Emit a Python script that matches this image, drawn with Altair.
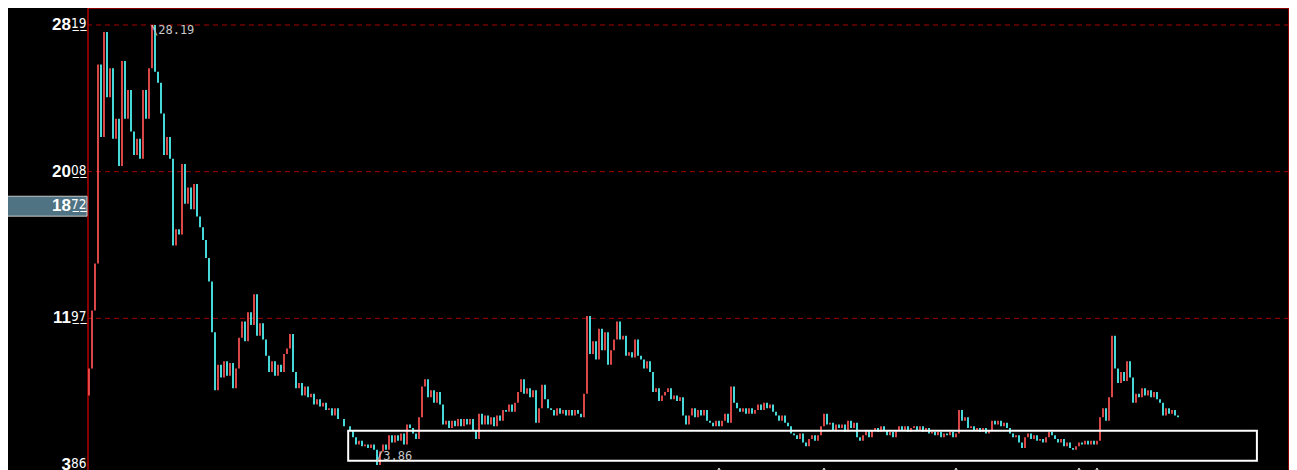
import altair as alt
import pandas as pd

# ---------------- data ----------------
FIRST_OPEN = 7.7
CLOSE = [
    9.2, 12.4, 15.0, 26.0, 22.0, 27.8, 24.2, 25.8, 21.9, 23.0,
    20.4, 26.2, 23.0, 24.6, 22.3, 21.0, 21.9, 20.8, 24.6, 23.0,
    25.8, 28.19, 25.6, 25.0, 23.3, 21.0, 22.0, 20.8, 16.0, 16.9,
    16.6, 20.5, 18.3, 19.2, 18.0, 19.4, 17.6, 17.0, 16.3, 15.3,
    14.0, 11.2, 8.0, 9.4, 8.7, 9.6, 8.8, 9.5, 8.1, 9.2,
    10.9, 11.8, 10.7, 12.3, 11.6, 13.3, 11.0, 11.7, 10.8, 9.9,
    9.0, 9.6, 8.8, 9.4, 9.0, 10.0, 10.3, 11.1, 9.0, 8.1,
    8.4, 7.7, 8.2, 7.6, 7.8, 7.2, 7.5, 7.1, 7.3, 6.9,
    7.0, 6.6, 7.0, 6.4, 6.4, 6.0, 6.0, 5.8, 5.4, 5.0,
    5.2, 4.9, 5.0, 4.8, 5.0, 4.7, 3.86, 4.6, 5.0, 4.7,
    5.5, 5.1, 5.5, 5.2, 5.6, 5.0, 6.1, 5.9, 5.6, 5.3,
    6.5, 8.2, 8.6, 7.6, 8.0, 7.3, 7.9, 7.2, 6.1, 6.3,
    5.9, 6.3, 6.0, 6.4, 6.0, 6.4, 6.1, 6.4, 5.8, 5.3,
    6.7, 6.1, 6.6, 6.1, 6.5, 6.0, 6.6, 6.3, 6.9, 6.8,
    7.2, 6.8, 7.3, 7.9, 8.6, 7.8, 8.1, 7.6, 8.0, 6.2,
    7.0, 8.3, 7.5, 7.0, 6.9, 6.6, 7.0, 6.7, 6.9, 6.6,
    6.9, 6.6, 6.9, 6.7, 6.5, 7.8, 12.1, 10.0, 10.7, 9.7,
    11.4, 10.2, 11.2, 9.4, 10.2, 10.8, 11.8, 10.8, 11.0, 9.9,
    10.1, 9.8, 10.8, 9.9, 9.7, 9.2, 9.6, 9.0, 7.9, 8.1,
    7.4, 7.7, 7.9, 8.1, 7.5, 7.7, 7.4, 7.6, 6.6, 6.1,
    6.6, 7.0, 6.5, 6.9, 6.6, 6.9, 6.3, 6.2, 6.0, 6.3,
    6.0, 6.3, 6.7, 6.2, 8.2, 7.3, 7.0, 6.8, 7.0, 6.7,
    7.0, 6.7, 6.9, 7.2, 6.9, 7.3, 7.0, 7.2, 6.8, 6.6,
    6.3, 6.6, 6.2, 6.0, 5.6, 5.5, 5.3, 5.6, 5.1, 4.9,
    5.3, 5.5, 5.2, 5.5, 6.0, 6.7, 6.1, 6.2, 5.8, 6.1,
    5.9, 6.1, 5.7, 6.3, 5.9, 6.2, 5.4, 5.2, 5.5, 5.8,
    5.4, 5.8, 5.9, 5.7, 6.0, 5.8, 5.5, 5.7, 5.4, 5.8,
    6.0, 5.8, 6.0, 5.7, 5.9, 6.0, 5.8, 6.0, 5.7, 5.9,
    5.6, 5.7, 5.5, 5.7, 5.4, 5.6, 5.5, 5.7, 5.4, 5.6,
    6.9, 6.3, 6.5, 5.9, 6.0, 5.8, 5.9, 5.7, 5.9, 5.6,
    5.8, 6.3, 6.1, 6.3, 6.0, 6.2, 5.9, 5.6, 5.4, 5.5,
    5.1, 4.8, 5.4, 5.6, 5.3, 5.5, 5.2, 5.3, 5.1, 5.4,
    5.7, 5.5, 5.3, 5.1, 5.3, 4.9, 5.1, 4.8, 4.7, 4.9,
    5.1, 5.0, 5.2, 5.0, 5.2, 5.0, 5.2, 6.5, 7.0, 6.3,
    7.6, 11.0, 9.2, 8.4, 9.0, 8.5, 9.6, 8.7, 7.3, 7.8,
    7.6, 8.1, 7.7, 8.0, 7.6, 7.9, 7.5, 7.3, 6.6, 7.0,
    6.7, 6.9, 6.6, 6.5,
]

LABEL_PRICE = [28.19, 20.08, 11.97, 3.86]
LABEL_INT = ["28", "20", "11", "3"]
LABEL_DEC = ["19", "08", "97", "86"]
GRID_PRICE = [28.19, 20.08, 11.97]

CUR_PRICE = 18.72
CUR_INT = "18"
CUR_DEC = "72"
CUR_BOX_BOTTOM = 17.62

HIGH_IDX, HIGH_TEXT = 21, "\\28.19"
LOW_IDX, LOW_TEXT = 96, "/3.86"

BOX_X = [86.4, 389.3]
BOX_Y = [5.75, 4.09]

SIGNAL_IDX = [210, 245, 289, 330, 336]

YDOM = [3.141, 29.130]
XDOM = [-0.333, 400.0]

UP_COLOR = "#ff5454"
DOWN_COLOR = "#54ffff"
GRID_COLOR = "#a80000"
BORDER_COLOR = "#b80000"


def underline(s):
    return "".join(ch + "\u0332" for ch in s)


# ---------------- build tables ----------------
opens = [FIRST_OPEN] + CLOSE[:-1]
df = pd.DataFrame({
    "i": list(range(len(CLOSE))),
    "open": opens,
    "close": CLOSE,
})
df["dir"] = ["up" if c >= o else "down" for o, c in zip(df["open"], df["close"])]

xs = alt.Scale(domain=XDOM, nice=False, zero=False)
ys = alt.Scale(domain=YDOM, nice=False, zero=False)

grid = alt.Chart(pd.DataFrame({"p": GRID_PRICE})).mark_rule(
    color=GRID_COLOR, strokeDash=[5, 4], strokeWidth=1
).encode(y=alt.Y("p:Q", scale=ys, axis=None))

candles = alt.Chart(df).mark_rule(strokeWidth=1.7).encode(
    x=alt.X("i:Q", scale=xs, axis=None),
    y=alt.Y("open:Q", scale=ys, axis=None),
    y2="close:Q",
    color=alt.Color("dir:N", scale=alt.Scale(domain=["up", "down"],
                                             range=[UP_COLOR, DOWN_COLOR]), legend=None),
)

box = alt.Chart(pd.DataFrame({"x1": [BOX_X[0]], "x2": [BOX_X[1]],
                              "y1": [BOX_Y[0]], "y2": [BOX_Y[1]]})).mark_rect(
    fill=None, filled=False, stroke="white", strokeWidth=2
).encode(
    x=alt.X("x1:Q", scale=xs, axis=None), x2="x2:Q",
    y=alt.Y("y1:Q", scale=ys, axis=None), y2="y2:Q",
)

signals = alt.Chart(pd.DataFrame({"i": SIGNAL_IDX})).mark_point(
    shape="triangle-up", filled=False, color="white", size=45, strokeWidth=1, opacity=1
).encode(x=alt.X("i:Q", scale=xs, axis=None), y=alt.value(463))

lab_df = pd.DataFrame({"p": LABEL_PRICE, "a": LABEL_INT,
                       "b": [underline(s) for s in LABEL_DEC]})
lab_int = alt.Chart(lab_df).mark_text(
    align="right", baseline="middle", font="Liberation Sans", fontSize=17,
    fontWeight="bold", color="white"
).encode(x=alt.value(-17), y=alt.Y("p:Q", scale=ys, axis=None), text="a:N")
lab_dec = alt.Chart(lab_df).mark_text(
    align="left", baseline="middle", font="DejaVu Sans Condensed", fontSize=13.5,
    color="white", dy=-1
).encode(x=alt.value(-17), y=alt.Y("p:Q", scale=ys, axis=None), text="b:N")

cur_df = pd.DataFrame({"p": [CUR_PRICE], "p2": [CUR_BOX_BOTTOM],
                       "a": [CUR_INT], "b": [underline(CUR_DEC)]})
cur_box = alt.Chart(cur_df).mark_rect(
    fill="#4f7383", stroke="#c8c8c8", strokeWidth=1
).encode(x=alt.value(-90), x2=alt.value(-1),
         y=alt.Y("p:Q", scale=ys, axis=None), y2="p2:Q")
cur_int = alt.Chart(cur_df).mark_text(
    align="right", baseline="middle", font="Liberation Sans", fontSize=17,
    fontWeight="bold", color="white", dy=10
).encode(x=alt.value(-17), y=alt.Y("p:Q", scale=ys, axis=None), text="a:N")
cur_dec = alt.Chart(cur_df).mark_text(
    align="left", baseline="middle", font="DejaVu Sans Condensed", fontSize=13.5,
    color="white", dy=9
).encode(x=alt.value(-17), y=alt.Y("p:Q", scale=ys, axis=None), text="b:N")

hi = alt.Chart(pd.DataFrame({"i": [HIGH_IDX], "p": [CLOSE[HIGH_IDX]], "t": [HIGH_TEXT]})).mark_text(
    align="left", baseline="top", font="DejaVu Sans Mono", fontSize=12,
    color="#c8c8c8", dx=-1, dy=0
).encode(x=alt.X("i:Q", scale=xs, axis=None), y=alt.Y("p:Q", scale=ys, axis=None), text="t:N")
lo = alt.Chart(pd.DataFrame({"i": [LOW_IDX], "p": [CLOSE[LOW_IDX]], "t": [LOW_TEXT]})).mark_text(
    align="left", baseline="bottom", font="DejaVu Sans Mono", fontSize=12,
    color="#c8c8c8", dx=-1, dy=-2
).encode(x=alt.X("i:Q", scale=xs, axis=None), y=alt.Y("p:Q", scale=ys, axis=None), text="t:N")

chart = alt.layer(
    grid, candles, box, signals, hi, lo,
    cur_box, cur_int, cur_dec,
    lab_int, lab_dec,
).properties(
    width=1201, height=470,
    padding={"left": 80, "top": 0, "right": 0, "bottom": 0},
    autosize=alt.AutoSizeParams(type="none"),
).configure(background="#000000").configure_view(
    stroke=BORDER_COLOR, strokeWidth=1.5, fill="#000000"
)

chart.save("out.html", embed_options={"renderer": "svg", "actions": False})
